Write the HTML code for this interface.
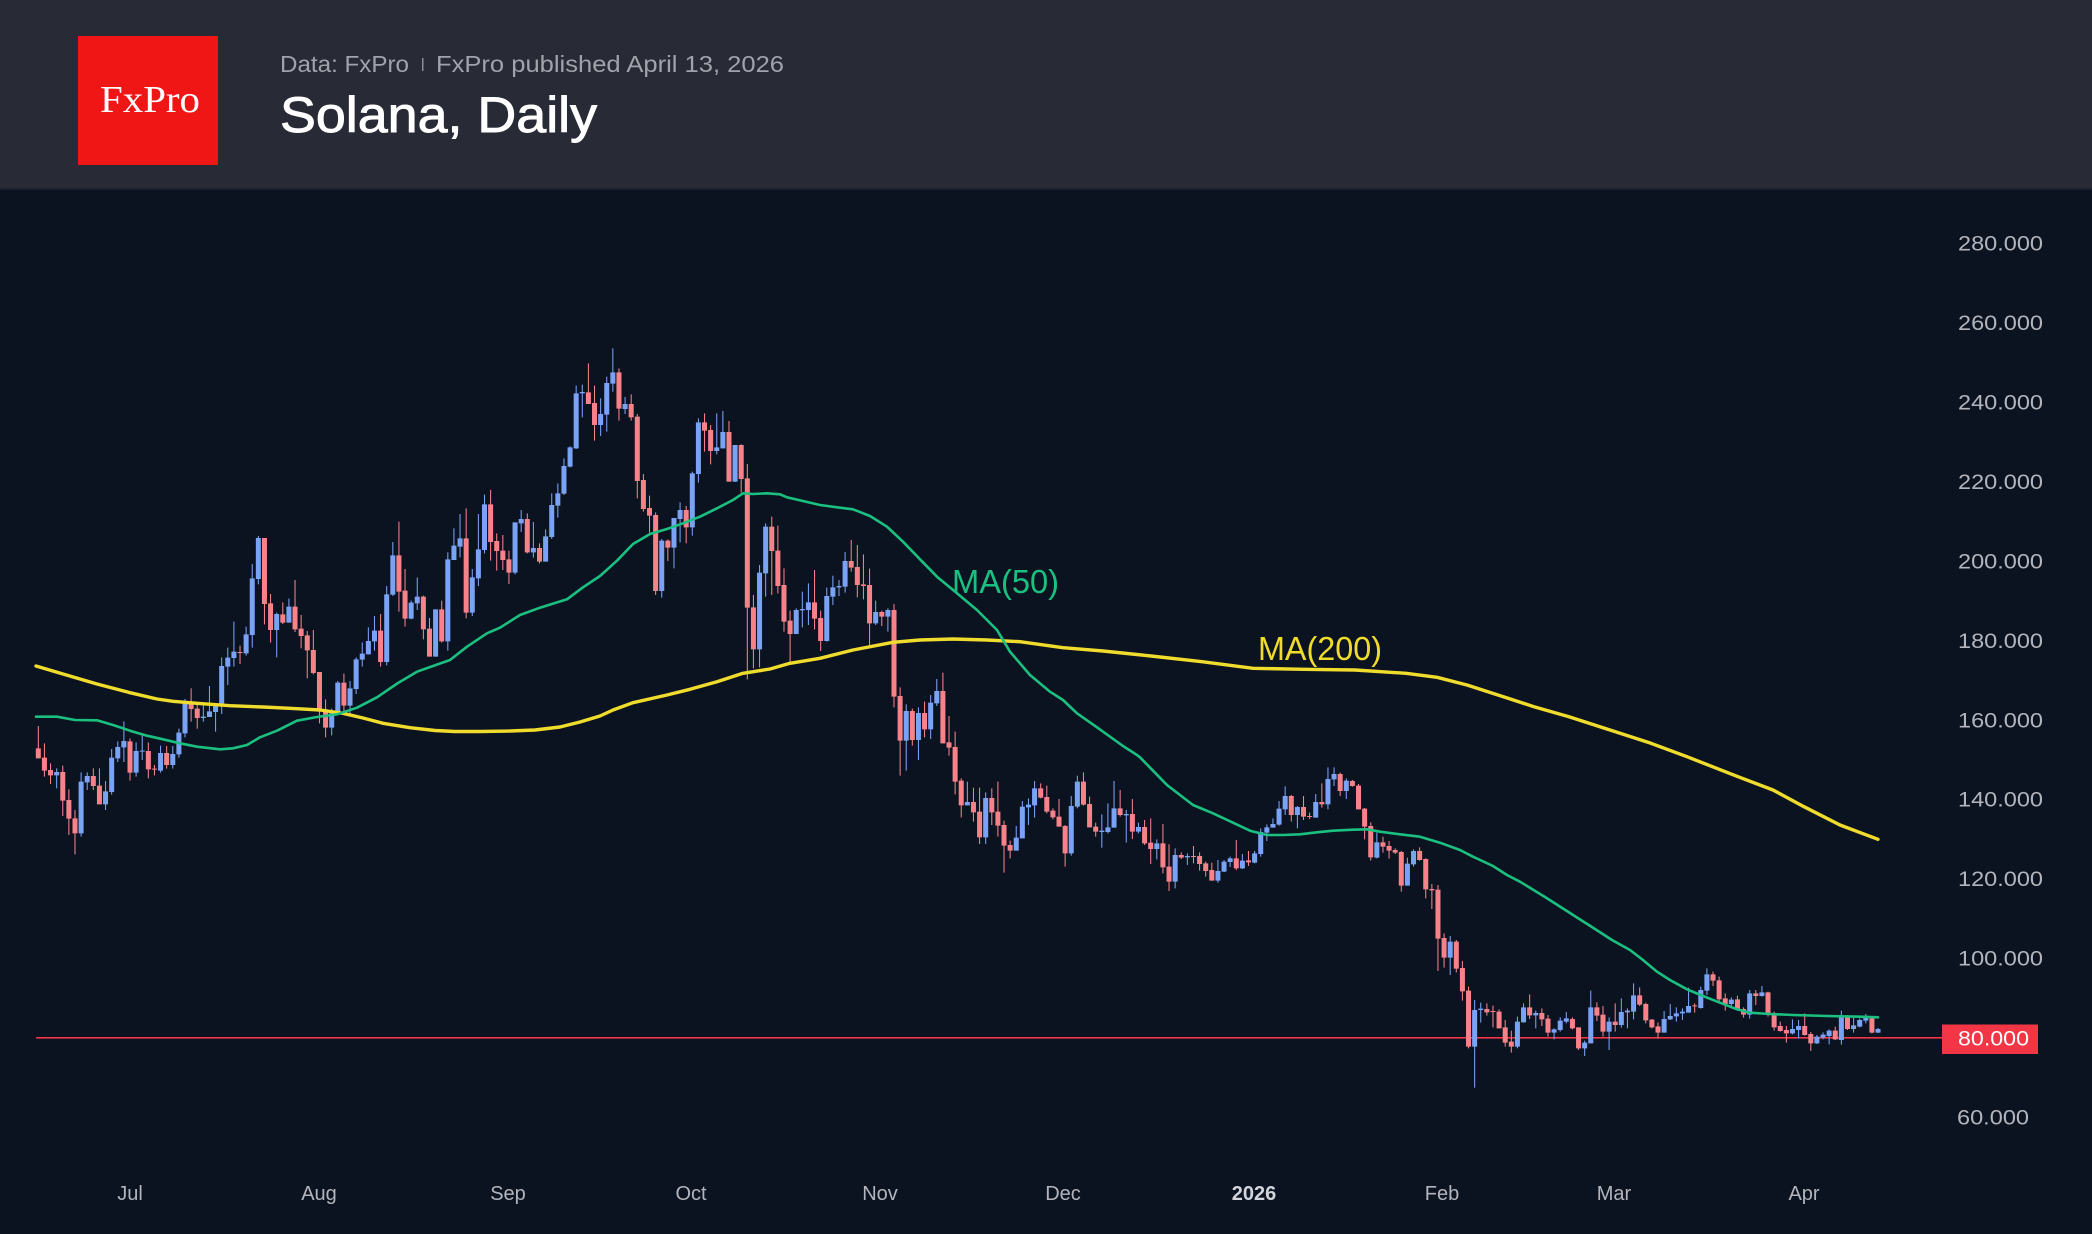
<!DOCTYPE html>
<html>
<head>
<meta charset="utf-8">
<style>
html,body{margin:0;padding:0;background:#0c1320;}
body{width:2092px;height:1234px;overflow:hidden;}
svg{display:block;}
.rb{stroke:#f7828a;stroke-width:.82;fill:none}
.rw{stroke:#f7828a;stroke-width:.17;fill:none}
.bb{stroke:#7aa3f5;stroke-width:.82;fill:none}
.bw{stroke:#7aa3f5;stroke-width:.17;fill:none}
.yl{font-family:"Liberation Sans",sans-serif;font-size:21px;fill:#b2b5bd}
.xl{font-family:"Liberation Sans",sans-serif;font-size:20px;fill:#b2b5bd;text-anchor:middle}
</style>
</head>
<body>
<svg width="2092" height="1234" viewBox="0 0 2092 1234" xmlns="http://www.w3.org/2000/svg">
<rect x="0" y="0" width="2092" height="1234" fill="#0c1320"/>
<!-- header -->
<rect x="0" y="0" width="2092" height="189" fill="#282b36"/>
<rect x="0" y="188" width="2092" height="2" fill="#1c202b"/>
<rect x="78" y="36" width="140" height="129" fill="#f11616"/>
<text x="100" y="112" font-family="'Liberation Serif',serif" font-size="38" fill="#ffffff" textLength="100" lengthAdjust="spacingAndGlyphs">FxPro</text>
<text x="280" y="72" font-family="'Liberation Sans',sans-serif" font-size="23" fill="#a0a3ab" textLength="129" lengthAdjust="spacingAndGlyphs">Data: FxPro</text>
<rect x="422" y="58" width="1.5" height="13" fill="#8a8d95"/>
<text x="436" y="72" font-family="'Liberation Sans',sans-serif" font-size="23" fill="#a0a3ab" textLength="348" lengthAdjust="spacingAndGlyphs">FxPro published April 13, 2026</text>
<text x="280" y="132" font-family="'Liberation Sans',sans-serif" font-size="50" fill="#ffffff" stroke="#ffffff" stroke-width="0.9" textLength="317" lengthAdjust="spacingAndGlyphs">Solana, Daily</text>

<!-- 80 line -->
<rect x="36" y="1037" width="1906" height="1.6" fill="#f23645"/>

<!-- candles group A -->
<g transform="translate(130,500) scale(6.112,0.333333)">
<path class="rw" d="M-15 678V775M-14 730V830M-13 790V852M-11 797V948M-10 868V1005M-9 930V1063M-6 805V870M-5 805V913M0 715V842M3 727V835M4 795V826M6 738V806M10 565V665M11 612V686M18 437V492M22 114V373M23 282V428M25 307V372M27 240V396M28 345V445M29 393V535M30 390V523M31 516V670M32 598V712M35 521V642M41 342V500M44 65V335M45 207V380"/>
<path class="rb" d="M-15 745V775M-14 773V812M-13 810V826M-11 816V902M-10 900V956M-9 955V1000M-6 828V858M-5 857V913M0 724V818M3 753V808M4 806V809M6 759V795M10 609V627M11 626V654M18 456V459M22 114V312M23 310V390M25 343V368M27 320V388M28 386V408M29 406V451M30 450V519M31 516V632M32 628V683M35 548V617M41 392V486M44 166V275M45 272V356"/>
<path class="bw" d="M-12 805V865M-8 817V1010M-7 817V870M-4 843V930M-3 747V884M-2 724V786M-1 664V786M1 727V830M2 707V780M5 737V818M7 738V806M8 686V773M9 597V712M12 612V665M13 558V651M14 614V695M15 472V642M16 443V555M17 365V500M19 380V467M20 192V443M21 108V253M24 338V472M26 296V368M33 626V706M34 543V642M36 543V648M37 472V582M38 427V500M39 382V463M40 348V452M42 258V496M43 126V288"/>
<path class="bb" d="M-12 816V826M-8 845V1000M-7 828V847M-4 874V913M-3 773V876M-2 741V775M-1 723V742M1 753V818M2 752V755M5 759V812M7 762V795M8 698V763M9 609V700M12 650V654M13 634V651M14 614V636M15 498V616M16 473V500M17 455V474M19 403V460M20 235V405M21 114V237M24 342V390M26 320V368M33 640V683M34 548V641M36 565V617M37 478V567M38 461V479M39 423V463M40 392V424M42 283V486M43 166V284"/>
</g>

<!-- group B -->
<g transform="translate(130,330) scale(6.112,0.333333)">
<path class="rw" d="M48 797V928M49 864V980M51 812V938M55 535V865M59 480V692M60 610V722M61 615V720M62 662V762M65 550V670M67 640V700M75 100V222M76 167V332M80 115V272M82 193V272M83 252V505M84 432V545M85 497V608M86 547V795M88 628V693M91 528V640M94 250V365M95 285V403M98 273V455M100 343V487M101 402V1048M102 795V1015M105 560V795M106 587V790"/>
<path class="rb" d="M48 800V898M49 896V980M51 838V934M55 625V848M59 523V636M60 633V663M61 662V690M62 688V728M65 567V667M67 654V695M75 187V222M76 219V285M80 127V236M82 222V262M83 260V453M84 450V537M85 534V557M86 555V783M88 632V653M91 540V592M94 277V302M95 300V363M98 306V455M100 345V447M101 445V833M102 832V958M105 590V663M106 662V768"/>
<path class="bw" d="M46 812V868M47 742V840M50 838V980M52 667V962M53 595V690M54 552V682M56 717V858M57 552V768M58 494V670M63 577V733M64 540V606M66 576V683M68 598V695M69 490V627M70 460V563M71 385V495M72 349V412M73 167V357M74 164V262M77 205V318M78 140V305M79 55V185M81 201V252M87 627V803M89 564V715M90 517V637M92 425V617M93 265V458M96 250V373M97 243V355M99 345V456M103 705V1012M104 580V800"/>
<path class="bb" d="M46 818V866M47 800V820M50 838V980M52 688V934M53 647V690M54 625V650M56 742V848M57 658V745M58 523V660M63 577V728M64 567V580M66 654V667M68 619V695M69 525V621M70 490V527M71 408V491M72 352V410M73 190V355M74 186V190M77 252V285M78 159V254M79 127V161M81 222V237M87 632V783M89 564V653M90 540V567M92 430V592M93 277V432M96 352V363M97 306V355M99 345V455M103 728V958M104 590V730"/>
</g>

<!-- group C -->
<g transform="translate(130,490) scale(6.112,0.333333)">
<path class="rw" d="M107 235V425M108 362V520M112 240V418M113 362V483M118 150V245M119 165V322M120 193V328M121 236V465M123 362V408M125 342V652M126 592V857M128 656V767M130 635V742M133 548V760M134 678V797M135 725V913M136 865V982M138 893V995M139 893V1062M141 895V1005M142 875V1040M143 992V1148M144 1052V1105M149 880V925M150 887V970M151 955V988M152 927V1010M153 1005V1130M156 847V947M157 920V1012M158 998V1040M162 900V980M164 927V1047M166 990V1065"/>
<path class="rb" d="M107 285V395M108 392V432M112 337V386M113 384V453M118 213V233M119 231V285M120 283V288M121 285V400M123 366V380M125 360V620M126 618V752M128 663V750M130 669V718M133 603V760M134 757V773M135 771V875M136 872V946M138 936V967M139 965V1042M141 924V967M142 965V1007M143 1005V1067M144 1065V1082M149 895V923M150 921V965M151 962V982M152 980V1010M153 1008V1090M156 875V944M157 942V1012M158 1010V1025M162 955V975M164 972V1025M166 1011V1060"/>
<path class="bw" d="M109 355V432M110 305V412M111 280V405M114 293V455M115 257V345M116 270V318M117 186V308M122 332V405M124 355V425M127 643V842M129 652V810M131 615V747M132 567V648M137 875V946M140 907V1062M145 1008V1082M146 933V1045M147 925V1005M148 873V983M154 918V1097M155 857V955M159 973V1073M160 940V1030M161 873V1013M163 960V1058M165 998V1030"/>
<path class="bb" d="M109 360V432M110 357V361M111 337V360M114 318V453M115 292V320M116 288V292M117 213V290M122 366V400M124 360V380M127 663V752M129 669V750M131 638V718M132 603V640M137 936V946M140 924V1042M145 1043V1082M146 950V1045M147 944V952M148 895V946M154 948V1090M155 875V950M159 1022V1026M160 1012V1026M161 955V1013M163 972V976M165 1011V1025"/>
</g>

<!-- group D -->
<g transform="translate(130,740) scale(6.112,0.333333)">
<path class="rw" d="M167 235V372M169 252V400M170 313V453M172 337V357M174 318V370M175 337V392M176 365V410M177 368V422M181 300V390M183 333V378M190 165V245M192 168V240M193 218V237M195 130V203M198 98V168M200 120V140M201 132V208M202 204V298M203 247V362M205 290V338M206 303V356M207 325V342M208 333V455M211 322V362M212 355V475M213 432V507M214 435V693M215 580V683M217 600V697M218 663V782M219 740V925M222 790V827M223 797V862M224 808V865M225 840V920M226 872V938"/>
<path class="rb" d="M167 308V327M169 310V382M170 380V425M172 345V353M174 348V351M175 348V372M176 370V393M177 390V422M181 355V385M183 361V367M190 168V225M192 201V230M193 228V231M195 186V193M198 102V153M200 123V138M201 137V208M202 206V260M203 258V352M205 307V320M206 318V332M207 330V338M208 336V437M211 333V360M212 357V448M213 447V451M214 449V596M215 594V653M217 605V686M218 684V754M219 752V920M222 807V817M223 813V816M224 815V865M225 862V908M226 905V920"/>
<path class="bw" d="M168 298V358M171 325V445M173 340V375M178 360V428M179 360V396M180 350V381M182 342V387M184 333V370M185 265V350M186 253V303M187 235V263M188 183V257M189 139V225M191 198V265M194 162V233M196 82V208M197 82V138M199 115V177M204 278V355M209 353V437M210 328V380M216 588V705M220 780V1043M221 788V848M227 830V925"/>
<path class="bb" d="M168 310V327M171 345V425M173 348V352M178 393V422M179 365V395M180 355V366M182 362V385M184 340V368M185 276V342M186 262V278M187 252V263M188 206V254M189 168V208M191 201V225M194 186V233M196 117V193M197 102V118M199 122V153M204 307V353M209 371V437M210 333V373M216 605V653M220 810V920M221 806V810M227 845V920"/>
</g>

<!-- group E -->
<g transform="translate(130,940) scale(6.112,0.333333)">
<path class="rw" d="M229 163V237M231 205V258M232 225V290M236 232V268M237 262V330M240 187V243M241 198V290M243 190V275M247 142V198M248 188V250M249 237V265M250 247V295M256 190V218M259 95V138M260 110V190M261 160V212M263 167V212M264 202V233M266 150V195M268 155V230M269 215V272M270 245V275M271 258V308M274 220V287M275 276V333M279 260V300M281 225V270M285 232V280"/>
<path class="rb" d="M229 202V226M231 219V238M232 236V278M236 237V265M237 262V325M240 202V227M241 224V275M243 245V255M247 166V194M248 192V241M249 239V262M250 259V278M256 196V199M259 103V122M260 121V178M261 175V192M263 178V210M264 207V224M266 160V168M268 157V222M269 219V262M270 258V273M271 270V280M274 258V285M275 282V310M279 272V298M281 232V267M285 235V278"/>
<path class="bw" d="M228 190V248M230 212V265M233 265V298M234 232V275M235 216V250M238 302V348M239 152V310M242 232V330M244 175V263M245 205V265M246 130V238M251 213V278M252 192V240M253 202V245M254 205V240M255 143V218M257 140V206M258 85V165M262 172V198M265 150V236M267 138V170M272 238V283M273 240V295M276 285V312M277 277V298M278 268V313M280 212V314M282 226V278M283 235V262M284 222V250M286 264V279"/>
<path class="bb" d="M228 202V247M230 219V226M233 268V278M234 242V270M235 235V245M238 308V325M239 202V310M242 245V275M244 216V255M245 212V217M246 166V215M251 237V278M252 228V238M253 220V229M254 215V220M255 198V218M257 150V204M258 103V152M262 179V192M265 160V224M267 157V168M272 267V280M273 258V270M276 290V310M277 284V293M278 272V288M280 232V300M282 256V267M283 240V260M284 232V242M286 267V278"/>
</g>

<!-- MA200 -->
<polyline fill="none" stroke="#f0dc2c" stroke-width="3.4" stroke-linejoin="round" stroke-linecap="round" points="36,666 63,674 97,684 130,692.7 157,699 173,701.3 197,703.3 230,705.7 263,707 297,708.7 320,710 343,713.3 363,718 383,723.3 410,727.7 435,730.5 455,731.5 480,731.5 510,731 535,730 560,727 580,722 600,716 613,710 633,702.7 667,695 690,689.3 717,681.7 743,673.3 770,669 790,663.3 820,658.3 853,650 893,642.3 920,640 953,639 987,640 1020,641.7 1063,647.7 1103,651 1151,656 1202,661.7 1253,668.3 1304,669.3 1355,670 1406,673.3 1437,677.3 1467,685 1508,698.3 1534,706.7 1569,716.7 1610,730 1651,743.3 1687,756.7 1738,776.7 1773,790 1804,806.7 1840,825 1878,839.3"/>
<!-- MA50 -->
<polyline fill="none" stroke="#1bc080" stroke-width="2.6" stroke-linejoin="round" stroke-linecap="round" points="36,716.7 57,716.7 75,720 97,720.3 113,725 130,730.7 147,735.7 163,739.3 180,743.3 197,746.7 220,749.3 233,748.3 247,745 260,737.3 277,730.7 297,720.7 317,717 337,714.3 357,707.7 377,697.3 398,683 417,671.7 433,666 450,660 467,646.7 487,633.3 500,627.7 520,615 540,607.7 567,599.3 583,587.3 600,576 617,560.7 633,544 650,534 667,529 683,523.3 700,516.7 717,508.3 733,500 743,493.3 753,494 767,493.3 780,494.3 787,497.3 803,501 820,505 837,507.3 853,509.3 870,516 887,526.7 903,541.7 920,559.3 937,576.7 957,593.3 977,610 997,630 1010,651.7 1030,675 1050,691.7 1063,700 1077,713.3 1097,727.3 1123,746 1137,755 1140,757.3 1153,770.7 1167,785 1180,795 1193,805 1213,813.3 1233,822.7 1250,830.7 1267,835 1283,835 1300,834.3 1317,832.3 1333,830.7 1353,829.7 1367,829.3 1380,831.7 1400,834.3 1420,836.7 1440,842.7 1460,850 1473,856.7 1493,866 1507,875 1520,881.7 1545,897 1570,913 1595,929 1612,940 1630,950 1643,960 1657,971.7 1670,980 1687,989.3 1703,996 1720,1002.7 1737,1009.3 1750,1012.7 1770,1014 1793,1015 1827,1016 1860,1016.7 1878,1017.3"/>

<!-- MA labels -->
<text x="952" y="593" font-family="'Liberation Sans',sans-serif" font-size="33" fill="#1bc080" textLength="107" lengthAdjust="spacingAndGlyphs">MA(50)</text>
<text x="1258" y="660" font-family="'Liberation Sans',sans-serif" font-size="33" fill="#f0dc2c" textLength="124" lengthAdjust="spacingAndGlyphs">MA(200)</text>

<!-- y axis labels -->
<text class="yl" x="1958" y="250.5" textLength="85" lengthAdjust="spacingAndGlyphs">280.000</text>
<text class="yl" x="1958" y="330" textLength="85" lengthAdjust="spacingAndGlyphs">260.000</text>
<text class="yl" x="1958" y="409.4" textLength="85" lengthAdjust="spacingAndGlyphs">240.000</text>
<text class="yl" x="1958" y="488.9" textLength="85" lengthAdjust="spacingAndGlyphs">220.000</text>
<text class="yl" x="1958" y="568.3" textLength="85" lengthAdjust="spacingAndGlyphs">200.000</text>
<text class="yl" x="1958" y="647.8" textLength="85" lengthAdjust="spacingAndGlyphs">180.000</text>
<text class="yl" x="1958" y="727.3" textLength="85" lengthAdjust="spacingAndGlyphs">160.000</text>
<text class="yl" x="1958" y="806.7" textLength="85" lengthAdjust="spacingAndGlyphs">140.000</text>
<text class="yl" x="1958" y="886.2" textLength="85" lengthAdjust="spacingAndGlyphs">120.000</text>
<text class="yl" x="1958" y="965.6" textLength="85" lengthAdjust="spacingAndGlyphs">100.000</text>
<text class="yl" x="1957" y="1124.6" textLength="72" lengthAdjust="spacingAndGlyphs">60.000</text>
<rect x="1942" y="1024.5" width="96" height="29.5" fill="#f23645"/>
<text x="1958" y="1045.5" font-family="'Liberation Sans',sans-serif" font-size="21" fill="#ffffff" textLength="71" lengthAdjust="spacingAndGlyphs">80.000</text>

<!-- x axis labels -->
<text class="xl" x="130" y="1200">Jul</text>
<text class="xl" x="319" y="1200">Aug</text>
<text class="xl" x="508" y="1200">Sep</text>
<text class="xl" x="691" y="1200">Oct</text>
<text class="xl" x="880" y="1200">Nov</text>
<text class="xl" x="1063" y="1200">Dec</text>
<text class="xl" x="1254" y="1200" font-weight="bold" style="fill:#d1d4dc">2026</text>
<text class="xl" x="1442" y="1200">Feb</text>
<text class="xl" x="1614" y="1200">Mar</text>
<text class="xl" x="1804" y="1200">Apr</text>
</svg>
</body>
</html>
